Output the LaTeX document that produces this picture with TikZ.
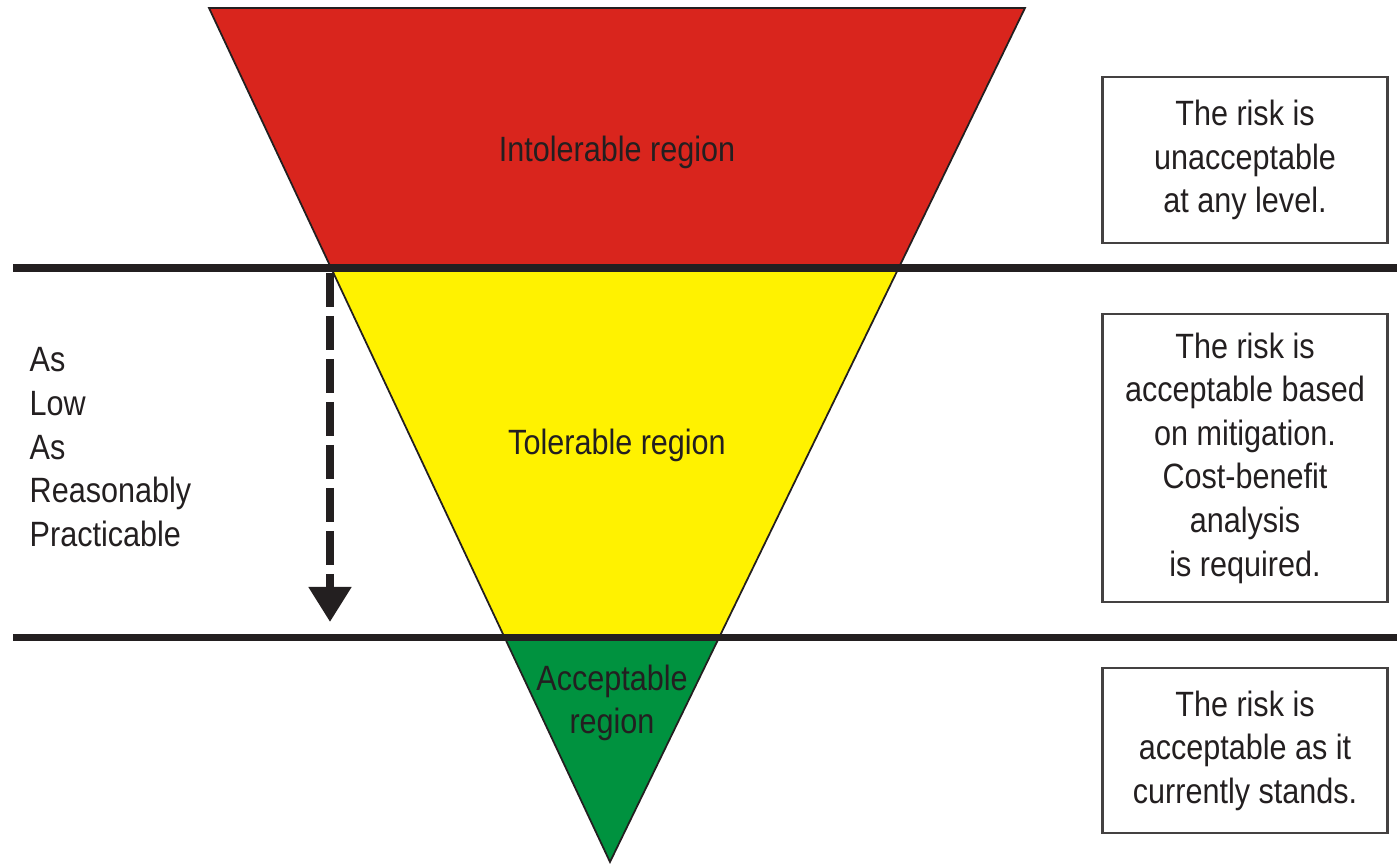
\documentclass[tikz,border=0pt]{standalone}
\usepackage{fontspec}
\setmainfont[FakeStretch=0.87]{Liberation Sans}
\usepackage{tikz}
\usetikzlibrary{positioning}
\usetikzlibrary{calc,arrows.meta}

\definecolor{IntolRed}{RGB}{217,37,29}
\definecolor{TolYellow}{RGB}{255,242,0}
\definecolor{AccGreen}{RGB}{0,146,63}
\definecolor{InkBlack}{RGB}{35,31,32}

\tikzset{
	band/.style={draw=InkBlack, line width=0.5pt, line join=miter},
	level/.style={draw=InkBlack, line width=2pt},
	regionlabel/.style={text=InkBlack, align=center, inner sep=0pt},
	riskbox/.style={draw=InkBlack!85, line width=0.6pt, minimum width=2.85cm, align=center, text=InkBlack, inner sep=0pt},
	alarp/.style={draw=InkBlack, line width=2.3pt, dash pattern=on 0.34cm off 0.09cm, -{Triangle[width=0.41cm,length=0.35cm]}},
}

\begin{document}
\begin{tikzpicture}[font=\fontsize{10}{12.4}\selectfont]

	% ------------------------------------------------
	% Ensure the dimensions of graphic are appropriate
	\useasboundingbox (0,0) rectangle (13.97,-8.64);

	% ------------------------------------------------
	% Relevant coordinates
	\coordinate (TopL) at (2.09,-0.08);
	\path (TopL) +(8.16,0) coordinate (TopR);
	\coordinate (Apex) at (6.10,-8.62);

	\coordinate (UpL)  at ($(TopL)!0.3044!(Apex)$);
	\coordinate (UpR)  at ($(TopR)!0.3044!(Apex)$);
	\coordinate (LowL) at ($(TopL)!0.7365!(Apex)$);
	\coordinate (LowR) at ($(TopR)!0.7365!(Apex)$);

	\coordinate (LevelUpBeg) at (0.13,-2.68);
	\path (LevelUpBeg)	+(13.84,0) coordinate (LevelUpEnd);
	\coordinate (LevelLowBeg) at (0.13,-6.375);
	\path (LevelLowBeg)	+(13.84,0) coordinate (LevelLowEnd);

	\coordinate (ArrowBeg) at (3.30,-2.73);
	\path (ArrowBeg)	+(0,-3.49) coordinate (ArrowEnd);

	% ----------------
	% Coloured bands
	\filldraw[band, fill=IntolRed]  (TopL) -- (TopR) -- (UpR) -- (UpL) -- cycle;
	\filldraw[band, fill=TolYellow] (UpL) -- (UpR) -- (LowR) -- (LowL) -- cycle;
	\filldraw[band, fill=AccGreen]  (LowL) -- (LowR) -- (Apex) -- cycle;

	% ----------------
	% Level lines
	\draw[level] (LevelUpBeg) -- (LevelUpEnd);
	\draw[level] (LevelLowBeg) -- (LevelLowEnd);

	% ----------------
	% Region labels
	\node[regionlabel, anchor=base] (IntolLabel) at (6.17,-1.62) {Intolerable region};
	\node[regionlabel, anchor=base] (TolLabel)   at (6.17,-4.55) {Tolerable region};
	\node[regionlabel] (AccLabel) at (6.12,-7.03) {Acceptable\\region};

	% ----------------
	% ALARP
	\node[regionlabel, align=left, anchor=north west] (AlarpLabel) at (0.29,-3.47)
		{As\\Low\\As\\Reasonably\\Practicable};
	\draw[alarp] (ArrowBeg) -- (ArrowEnd);

	%%%%%%%%%%%%%%%%%%%%%%%%%%%%%%%%%%%%%%%%%
	%Risk boxes
	\node[riskbox, minimum height=1.66cm] (IntolBox) at (12.45,-1.60)
		{The risk is\\unacceptable\\at any level.};
	\node[riskbox, minimum height=2.88cm, below=0.69cm of IntolBox] (TolBox)
		{The risk is\\acceptable based\\on mitigation.\\Cost-benefit\\analysis\\is required.};
	\node[riskbox, minimum height=1.65cm, below=0.64cm of TolBox] (AccBox)
		{The risk is\\acceptable as it\\currently stands.};

\end{tikzpicture}
\end{document}
